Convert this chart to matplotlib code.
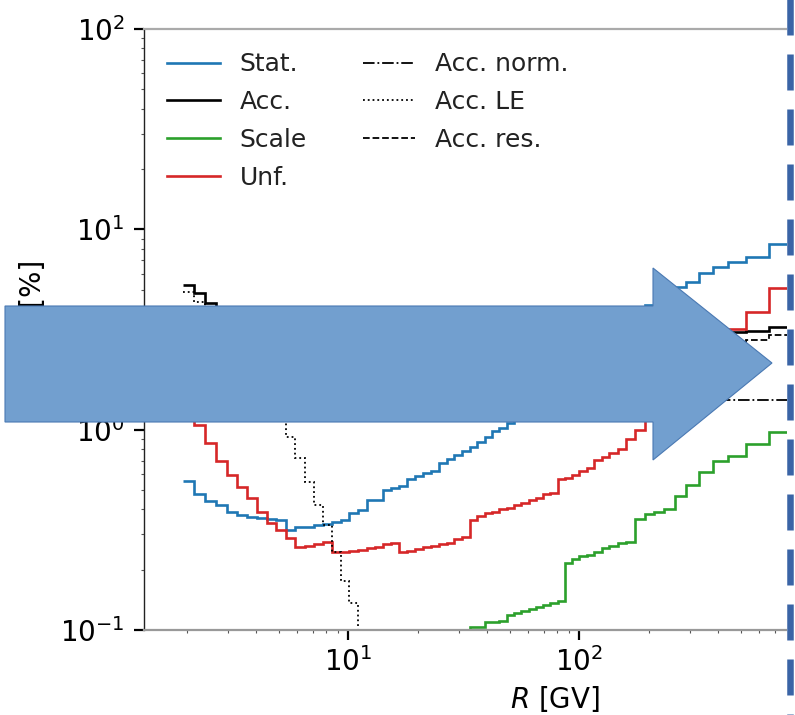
import numpy as np
import matplotlib
matplotlib.use("Agg")
import matplotlib.pyplot as plt
from matplotlib.patches import Polygon, Rectangle
from matplotlib.lines import Line2D

# ---------------- data ----------------
edges = [1.92, 2.15, 2.40, 2.67, 2.97, 3.29, 3.64, 4.02, 4.43, 4.88, 5.37, 5.90, 6.47,
         7.09, 7.76, 8.48, 9.26, 10.1, 11.0, 12.0, 13.0, 14.1, 15.3, 16.6, 18.0, 19.5,
         21.1, 22.8, 24.7, 26.7, 28.8, 31.1, 33.5, 36.1, 38.9, 41.9, 45.1, 48.5, 52.2,
         56.1, 60.3, 64.8, 69.7, 74.9, 80.5, 86.5, 93.0, 100, 108, 116, 125, 135, 147,
         160, 175, 192, 211, 233, 259, 291, 330, 379, 441, 525, 660, 880]

stat = [0.557, 0.480, 0.438, 0.423, 0.390, 0.377, 0.368, 0.364, 0.360, 0.356,
        0.317, 0.325, 0.328, 0.336, 0.340, 0.348, 0.356, 0.385, 0.397, 0.448,
        0.448, 0.502, 0.513, 0.525, 0.564, 0.585, 0.611, 0.625, 0.685, 0.710,
        0.750, 0.785, 0.822, 0.870, 0.923, 0.980, 1.02, 1.08, 1.14, 1.20,
        1.27, 1.35, 1.43, 1.52, 1.62, 1.74, 1.87, 2.00, 2.15, 2.35,
        2.55, 2.80, 3.10, 3.45, 3.80, 4.17, 4.50, 4.85, 5.17, 5.47,
        6.07, 6.50, 6.88, 7.29, 8.47]

acc = [5.30, 4.81, 4.28, 4.02, 3.68, 3.40, 3.12, 2.87, 2.64, 2.41,
       2.26, 2.18, 2.13, 2.10, 2.09, 2.07, 2.07, 2.06, 2.06, 2.06,
       2.07, 2.09, 2.10, 2.12, 2.13, 2.15, 2.16, 2.18, 2.19, 2.21,
       2.23, 2.26, 2.28, 2.30, 2.33, 2.35, 2.37, 2.40, 2.42, 2.45,
       2.47, 2.50, 2.52, 2.55, 2.57, 2.60, 2.62, 2.65, 2.67, 2.70,
       2.72, 2.75, 2.78, 2.80, 2.83, 2.85, 2.88, 2.91, 2.93, 2.96,
       3.00, 3.05, 3.09, 3.12, 3.26]

scale = [0.020, 0.022, 0.024, 0.026, 0.028, 0.030, 0.032, 0.034, 0.036, 0.038,
         0.040, 0.042, 0.045, 0.048, 0.051, 0.054, 0.057, 0.060, 0.063, 0.066,
         0.069, 0.072, 0.075, 0.078, 0.081, 0.084, 0.087, 0.090, 0.093, 0.096,
         0.099, 0.100, 0.103, 0.104, 0.110, 0.110, 0.111, 0.119, 0.121, 0.124,
         0.128, 0.131, 0.134, 0.137, 0.140, 0.215, 0.225, 0.235, 0.238, 0.244,
         0.258, 0.262, 0.273, 0.276, 0.360, 0.381, 0.390, 0.400, 0.469, 0.532,
         0.618, 0.700, 0.742, 0.851, 0.977]

unf = [1.15, 1.06, 0.861, 0.700, 0.597, 0.520, 0.458, 0.390, 0.344, 0.317,
       0.289, 0.261, 0.263, 0.268, 0.275, 0.244, 0.246, 0.249, 0.252, 0.256,
       0.260, 0.270, 0.273, 0.244, 0.248, 0.255, 0.259, 0.264, 0.268, 0.273,
       0.285, 0.292, 0.356, 0.370, 0.385, 0.390, 0.400, 0.408, 0.420, 0.432,
       0.445, 0.458, 0.475, 0.485, 0.564, 0.575, 0.597, 0.620, 0.646, 0.708,
       0.730, 0.767, 0.800, 0.900, 1.00, 1.15, 1.40, 1.70, 2.00, 2.40,
       2.80, 3.05, 3.19, 3.88, 5.11]

acc_norm = [1.41] * 65

acc_le = [4.88, 4.35, 3.75, 3.45, 3.05, 2.70, 2.35, 2.00, 1.65, 1.25,
          0.923, 0.725, 0.551, 0.423, 0.336, 0.244, 0.175, 0.137, 0.085, 0.062,
          0.048, 0.038, 0.031, 0.026, 0.022, 0.019, 0.017, 0.015, 0.013, 0.012,
          0.011, 0.011, 0.010, 0.010, 0.010, 0.010, 0.010, 0.010, 0.010, 0.010,
          0.010, 0.010, 0.010, 0.010, 0.010, 0.010, 0.010, 0.010, 0.010, 0.010,
          0.010, 0.010, 0.010, 0.010, 0.010, 0.010, 0.010, 0.010, 0.010, 0.010,
          0.010, 0.010, 0.010, 0.010, 0.010]

acc_res = [1.50, 1.50, 1.50, 1.50, 1.50, 1.50, 1.50, 1.50, 1.50, 1.50,
           1.50, 1.50, 1.50, 1.50, 1.50, 1.50, 1.50, 1.50, 1.50, 1.50,
           1.52, 1.54, 1.56, 1.58, 1.60, 1.62, 1.64, 1.66, 1.68, 1.70,
           1.73, 1.76, 1.79, 1.82, 1.85, 1.88, 1.91, 1.94, 1.97, 2.00,
           2.03, 2.06, 2.09, 2.12, 2.15, 2.18, 2.21, 2.24, 2.27, 2.30,
           2.33, 2.36, 2.39, 2.42, 2.45, 2.48, 2.51, 2.54, 2.57, 2.60,
           2.65, 2.70, 2.75, 2.81, 2.98]

labels = ["Stat.", "Acc.", "Scale", "Unf.", "Acc. norm.", "Acc. LE", "Acc. res."]
xtick_vals = [10, 100]

# ---------------- figure ----------------
W, H = 795, 715
fig = plt.figure(figsize=(W / 100, H / 100), dpi=100)

def fx(px):
    return px / W

def fy(py):
    return 1 - py / H

ax_left, ax_right, ax_top, ax_bot = 144, 966, 29, 630
ax = fig.add_axes([fx(ax_left), fy(ax_bot), (ax_right - ax_left) / W, (ax_bot - ax_top) / H])
ax.set_xscale("log")
ax.set_yscale("log")
ax.set_xlim(1.305, 4721)
ax.set_ylim(0.1, 100)
ax.set_xticks(xtick_vals)

lw = 1.9
ax.stairs(stat, edges, baseline=None, color="#1f77b4", lw=lw, label=labels[0])
ax.stairs(acc, edges, baseline=None, color="black", lw=lw, label=labels[1])
ax.stairs(scale, edges, baseline=None, color="#2ca02c", lw=lw, label=labels[2])
ax.stairs(unf, edges, baseline=None, color="#d62728", lw=lw, label=labels[3])
ax.stairs(acc_norm, edges, baseline=None, color="black", lw=1.3, ls="-.", label=labels[4])
ax.stairs(acc_le, edges, baseline=None, color="black", lw=1.3, ls=":", label=labels[5])
ax.stairs(acc_res, edges, baseline=None, color="black", lw=1.3, ls="--", label=labels[6])

ax.set_xlabel(r"$R$ [GV]", fontsize=20, labelpad=5)
ax.set_ylabel("Errors [%]", fontsize=20)
ax.yaxis.set_label_coords(-0.118, 0.50)

ax.tick_params(axis="both", which="major", length=7, width=1.6, labelsize=20, color="black")
ax.tick_params(axis="y", which="major", pad=7)
ax.tick_params(axis="x", which="major", pad=5)
ax.tick_params(axis="both", which="minor", length=2.5, width=0.8, color="#555555")

ax.spines["right"].set_visible(False)
ax.spines["left"].set_color("#222222")
ax.spines["left"].set_linewidth(1.0)
ax.spines["top"].set_color("#aaaaaa")
ax.spines["top"].set_linewidth(1.6)
ax.spines["bottom"].set_color("#999999")
ax.spines["bottom"].set_linewidth(1.6)

leg = ax.legend(ncol=2, frameon=False, fontsize=18, handlelength=2.1, handletextpad=0.8,
                columnspacing=2.24, labelspacing=0.55, loc="upper left",
                bbox_to_anchor=(0.028, 0.961), borderaxespad=0, borderpad=0)
for t in leg.get_texts():
    t.set_color("#222222")

# ---------------- slide overlays ----------------
# white cover right of the cropped chart
fig.add_artist(Rectangle((fx(787), 0), fx(W) - fx(787), 1, transform=fig.transFigure,
                         facecolor="white", edgecolor="none", zorder=10))

arrow_px = [(5, 306), (653, 306), (653, 268), (772, 363), (653, 460), (653, 422), (5, 422)]
arrow = Polygon([(fx(x), fy(y)) for x, y in arrow_px], closed=True, transform=fig.transFigure,
                facecolor="#729fcf", edgecolor="#4a79b3", lw=0.8, zorder=11)
fig.add_artist(arrow)

dash_line = Line2D([fx(790), fx(790)], [fy(-3), fy(730)], transform=fig.transFigure,
                   color="#3a64a6", lw=4.7, solid_capstyle="butt", dash_capstyle="butt",
                   zorder=12)
dash_line.set_dashes((36 * 0.72 / 4.7, 19 * 0.72 / 4.7))
fig.add_artist(dash_line)

fig.savefig("out.png", dpi=100)
